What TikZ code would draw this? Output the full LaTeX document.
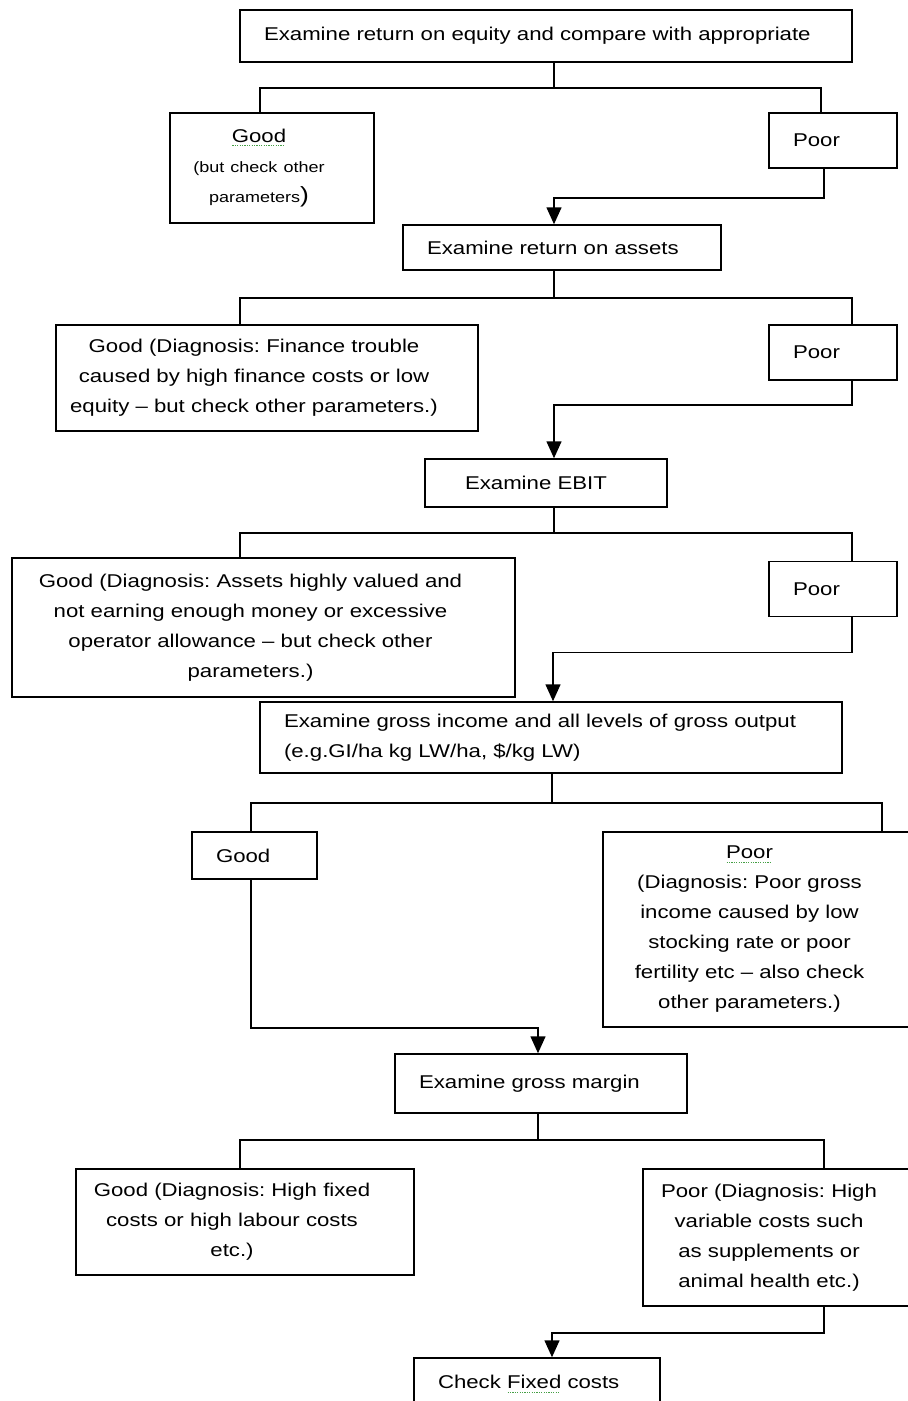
\documentclass[tikz,border=0pt]{standalone}
\usepackage{fontspec}
\setmainfont[FakeStretch=1.2]{Liberation Sans}
\usepackage{xcolor}
\usepackage{tikz}
\usetikzlibrary{positioning,arrows.meta}
\frenchspacing
\definecolor{SpellGreen}{RGB}{70,160,70}
% dotted green mark under a word
\newcommand{\spellmark}[1]{\setbox0=\hbox{#1}\rlap{\color{SpellGreen}\raisebox{-3.5pt}{\hbox to \wd0{\leaders\hbox to 2.4pt{\hss\rule{1.2pt}{0.9pt}\hss}\hfill}}}#1}
\tikzset{
    box_common/.style={rectangle, draw=black, line width=1.5pt, fill=white, inner ysep=0pt,
        font=\fontsize{18.5pt}{30pt}\selectfont},
    link/.style={draw=black, line width=1.5pt}
}

\begin{document}
\begin{tikzpicture}[
        x=1pt, y=-1pt,
        % single line box, text flush left
        ask_box/.style={
            box_common,
            align=left,
            text width=#1,
            inner xsep=24pt
        },
        % diagnosis box, lines centred a bit to the left
        note_box/.style={
            box_common,
            align=center,
            text width=#1,
            inner xsep=4pt,
            execute at begin node={\leftskip=0pt plus 1fil\rightskip=26pt plus 1fil\parfillskip=0pt}
        },
        % connector with arrow head
        link_arrow/.style={
            link,
            -{Triangle[length=17pt, width=15pt]}
        }
    ]

        \useasboundingbox (0,0) rectangle (908,1401);
        \clip (0,0) rectangle (908,1401);

        % --- STEP 1: RETURN ON EQUITY ---
        \node[ask_box=564, minimum height=52] (q1) at (546,36)
            {Examine return on equity and compare with appropriate};
        \node[note_box=196, minimum height=110] (good1) at (272,168)
            {\spellmark{Good}\\{\fontsize{15pt}{30pt}\selectfont (but check other\\parameters}{\fontsize{22pt}{30pt}\selectfont )}};
        \node[ask_box=80, minimum height=55] (poor1) at (833,140.5) {Poor};

        % --- STEP 2: RETURN ON ASSETS ---
        \node[ask_box=270, minimum height=45] (q2) at (562,247.5) {Examine return on assets};
        \node[note_box=414, minimum height=106] (good2) at (267,378)
            {Good (Diagnosis: Finance trouble\\caused by high finance costs or low\\equity -- but check other parameters.)};
        \node[ask_box=80, minimum height=55] (poor2) at (833,352.5) {Poor};

        % --- STEP 3: EBIT ---
        \node[ask_box=194, minimum height=48] (q3) at (546,483) {\hspace*{16pt}Examine EBIT};
        \node[note_box=495, minimum height=139] (good3) at (263.5,627.5)
            {Good (Diagnosis: Assets highly valued and\\not earning enough money or excessive\\operator allowance -- but check other\\parameters.)};
        \node[ask_box=80, minimum height=55] (poor3) at (833,589) {Poor};

        % --- STEP 4: GROSS INCOME ---
        \node[ask_box=534, minimum height=71] (q4) at (551,737.5)
            {Examine gross income and all levels of gross output\\(e.g.GI/ha kg LW/ha, \$/kg LW)};
        \node[ask_box=77, minimum height=47] (good4) at (254.5,855.5) {Good};
        \node[note_box=311, minimum height=195] (poor4) at (762.5,929.5)
            {\spellmark{Poor}\\(Diagnosis: Poor gross\\income caused by low\\stocking rate or poor\\fertility etc -- also check\\other parameters.)};

        % --- STEP 5: GROSS MARGIN ---
        \node[ask_box=244, minimum height=59] (q5) at (541,1083.5) {Examine gross margin};
        \node[note_box=330, minimum height=106] (good5) at (245,1222)
            {Good (Diagnosis: High fixed\\costs or high labour costs\\etc.)};
        \node[note_box=270, minimum height=137] (poor5) at (782,1237.5)
            {Poor (Diagnosis: High\\variable costs such\\as supplements or\\animal health etc.)};

        % --- STEP 6 ---
        \node[ask_box=198, minimum height=52] (q6) at (537,1384) {Check \spellmark{Fixed} costs};

        % --- SPLIT INTO GOOD / POOR ---
        \foreach \src/\sx/\drop/\lft/\lx/\rgt/\rx in {
                q1/8/25/good1/-12/poor1/-12,
                q2/-8/27/good2/-27/poor2/19,
                q3/8/25/good3/-23.5/poor3/19,
                q4/1/29/good4/-3.5/poor4/119.5,
                q5/-3/26/good5/-5/poor5/42} {
            \draw[link] ([xshift=\sx pt]\src.south) -- ++(0,\drop) coordinate (J);
            \draw[link] ([xshift=\lx pt]\lft.north) |- (J) -| ([xshift=\rx pt]\rgt.north);
        }

        % --- GO ON TO NEXT CHECK ---
        \foreach \from/\fx/\drop/\to/\tx in {
                poor1/-9/29/q2/-8,
                poor2/19/24/q3/8,
                poor3/19/35/q4/2,
                good4/-3.5/148/q5/-3,
                poor5/42/26/q6/15} {
            \draw[link_arrow] ([xshift=\fx pt]\from.south) -- ++(0,\drop) -| ([xshift=\tx pt]\to.north);
        }

    \end{tikzpicture}
\end{document}
